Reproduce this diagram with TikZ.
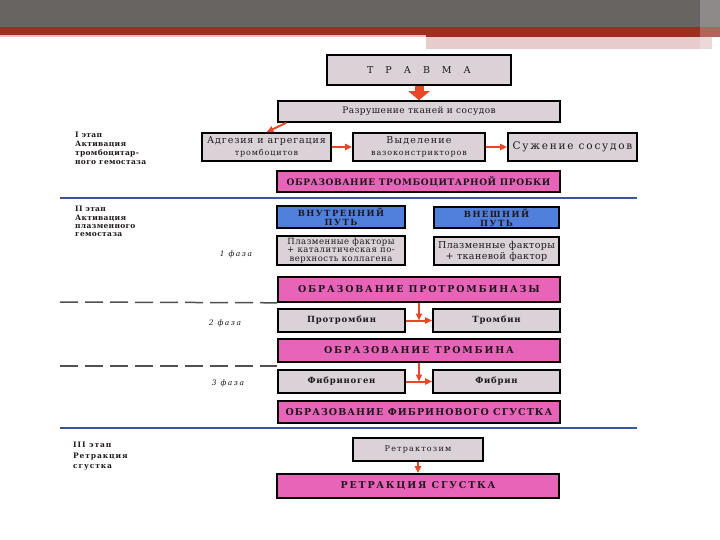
\documentclass[tikz,border=0pt]{standalone}
\usepackage{fontspec}
\setmainfont{DejaVu Serif}
\usetikzlibrary{arrows.meta}
\definecolor{bandgrey}{RGB}{104,100,98}
\definecolor{bandred}{RGB}{156,48,32}
\definecolor{bandpink}{RGB}{238,190,190}
\definecolor{bandlight}{RGB}{230,204,204}
\definecolor{boxgrey}{RGB}{218,210,214}
\definecolor{boxpink}{RGB}{232,100,184}
\definecolor{boxblue}{RGB}{80,128,220}
\definecolor{arrred}{RGB}{232,72,40}
\definecolor{sepblue}{RGB}{58,86,156}
\definecolor{dashgrey}{RGB}{80,80,80}
\definecolor{inkdark}{RGB}{30,24,28}
\newcommand\fsz[2]{\fontsize{#1bp}{#1bp}\selectfont\addfontfeatures{LetterSpace=#2}}
\tikzset{
  txt/.style n args={3}{font={\fontsize{#1bp}{#2bp}\selectfont\addfontfeatures{LetterSpace=#3}}},
  txtb/.style n args={3}{font={\bfseries\fontsize{#1bp}{#2bp}\selectfont\addfontfeatures{LetterSpace=#3}}},
  box/.style={draw=black, line width=1.6bp, inner sep=0pt, align=center, text=inkdark},
  gbox/.style={box, fill=boxgrey},
  pbox/.style={box, fill=boxpink},
  bbox/.style={box, fill=boxblue},
  arr/.style={draw=arrred, line width=2bp, -{Triangle[length=7bp,width=6bp]}},
  bigarr/.style={draw=arrred, line width=9bp, -{Triangle[length=9bp,width=21bp]}},
  sepline/.style={draw=sepblue, line width=2.4bp},
  dline/.style={draw=dashgrey, line width=1.5bp, dash pattern=on 18bp off 7bp},
  lbl/.style={anchor=north west, inner sep=0pt, align=left, text=inkdark},
  phase/.style={inner sep=0pt, text=inkdark, font={\itshape\fontsize{7.5bp}{8bp}\selectfont\addfontfeatures{LetterSpace=20}}}
}
\begin{document}
\begin{tikzpicture}[x=1bp,y=-1bp]
\useasboundingbox (0,0) rectangle (720,540);
\fill[white] (0,0) rectangle (720,540);
% top band
\fill[bandgrey] (0,0) rectangle (720,27);
\fill[bandred] (0,27) rectangle (720,35);
\fill[bandpink] (0,35) rectangle (426,37.5);
\fill[bandred] (426,35) rectangle (720,37);
\fill[bandlight] (426,37) rectangle (712,49);
\fill[white, opacity=0.25] (700,0) rectangle (720,49);

% stage I
\node[gbox, minimum width=184bp, minimum height=30bp] (trauma) at (419,70)
  {\fsz{9.5}{0}Т\hspace{12bp}Р\hspace{12bp}А\hspace{12bp}В\hspace{12bp}М\hspace{12bp}А};
\node[gbox, txt={9}{10}{5}, minimum width=282bp, minimum height=21bp] (razr) at (419,111.5)
  {Разрушение тканей и сосудов};
\node[gbox, txt={9.5}{12}{9}, minimum width=129bp, minimum height=28bp] (adg) at (266.5,147)
  {Адгезия и агрегация\\{\fsz{8}{11}тромбоцитов}};
\node[gbox, txt={9.5}{12}{12}, minimum width=132bp, minimum height=28bp] (vyd) at (419,147)
  {Выделение\\{\fsz{8}{11}вазоконстрикторов}};
\node[gbox, txt={10.5}{11}{17}, minimum width=129bp, minimum height=28bp] (suzh) at (572.5,147)
  {Сужение сосудов};
\node[pbox, txtb={9}{10}{6.5}, minimum width=283bp, minimum height=21bp] (probka) at (418.5,181.5)
  {ОБРАЗОВАНИЕ ТРОМБОЦИТАРНОЙ ПРОБКИ};

% stage II
\node[bbox, txtb={8.5}{9}{17}, minimum width=128bp, minimum height=22bp] (vnutr) at (341,217)
  {ВНУТРЕННИЙ\\ПУТЬ};
\node[bbox, txtb={8.5}{9}{17}, minimum width=125bp, minimum height=21bp] (vnesh) at (496.5,217.5)
  {ВНЕШНИЙ\\ПУТЬ};
\node[gbox, txt={8.5}{8.6}{6}, minimum width=128bp, minimum height=29bp] (plazm1) at (341,250.5)
  {Плазменные факторы\\+ каталитическая по-\\верхность коллагена};
\node[gbox, txt={9.5}{11}{4}, minimum width=125bp, minimum height=28bp] (plazm2) at (496.5,251)
  {Плазменные факторы\\+ тканевой фактор};
\node[pbox, txtb={9.5}{10}{19}, minimum width=282bp, minimum height=25bp] (protrombinaza) at (419,289.5)
  {ОБРАЗОВАНИЕ ПРОТРОМБИНАЗЫ};
\node[gbox, txtb={8.5}{10}{9}, minimum width=127bp, minimum height=23bp] (protrombin) at (341.5,320.5)
  {Протромбин};
\node[gbox, txtb={8.5}{10}{9}, minimum width=127bp, minimum height=23bp] (trombin) at (496.5,320.5)
  {Тромбин};
\node[pbox, txtb={9.5}{10}{19}, minimum width=282bp, minimum height=23bp] (trombina) at (419,350.5)
  {ОБРАЗОВАНИЕ ТРОМБИНА};
\node[gbox, txtb={8.5}{10}{9}, minimum width=127bp, minimum height=23bp] (fibrinogen) at (341.5,381.5)
  {Фибриноген};
\node[gbox, txtb={8.5}{10}{9}, minimum width=127bp, minimum height=23bp] (fibrin) at (496.5,381.5)
  {Фибрин};
\node[pbox, txtb={9.5}{10}{11}, minimum width=282bp, minimum height=22bp] (sgustok) at (419,412)
  {ОБРАЗОВАНИЕ ФИБРИНОВОГО СГУСТКА};

% stage III
\node[gbox, txt={8}{10}{15}, minimum width=130bp, minimum height=23bp] (retraktozim) at (418,449.5)
  {Ретрактозим};
\node[pbox, txtb={9.5}{10}{19}, minimum width=282bp, minimum height=24bp] (retrakcia) at (418,486)
  {РЕТРАКЦИЯ СГУСТКА};

% separators
\draw[sepline] (60,198) -- (637,198);
\draw[sepline] (60,428) -- (637,428);
\draw[dline] (60,302) -- (protrombinaza.south west);
\draw[dline] (60,366) -- (277,366);

% arrows
\draw[bigarr] (trauma.south) -- (razr.north);
\draw[arr] ([xshift=9bp]razr.south west) -- (adg.north);
\draw[arr] (adg.east) -- (vyd.west);
\draw[arr] (vyd.east) -- (suzh.west);
\draw[arr] (protrombinaza.south) -- (protrombinaza.south |- protrombin.east);
\draw[arr] (protrombin.east) -- (trombin.west);
\draw[arr] (trombina.south) -- (trombina.south |- fibrinogen.east);
\draw[arr] (fibrinogen.east) -- (fibrin.west);
\draw[arr] (retraktozim.south) -- (retrakcia.north);

% stage labels
\node[lbl, font={\bfseries\fontsize{7.5bp}{8.8bp}\selectfont\addfontfeatures{LetterSpace=4}}] (st1) at (75,132)
  {I этап\\Активация\\тромбоцитар-\\ного гемостаза};
\node[lbl, font={\bfseries\fontsize{7.5bp}{8.4bp}\selectfont\addfontfeatures{LetterSpace=4}}] (st2) at (75,206)
  {II этап\\Активация\\плазменного\\гемостаза};
\node[lbl, font={\bfseries\fontsize{7.5bp}{10.5bp}\selectfont\addfontfeatures{LetterSpace=12}}] (st3) at (73,442)
  {III этап\\Ретракция\\сгустка};

\node[phase] (ph1) at (236,254) {1 фаза};
\node[phase] (ph2) at (225,323) {2 фаза};
\node[phase] (ph3) at (228,383) {3 фаза};
\end{tikzpicture}
\end{document}
